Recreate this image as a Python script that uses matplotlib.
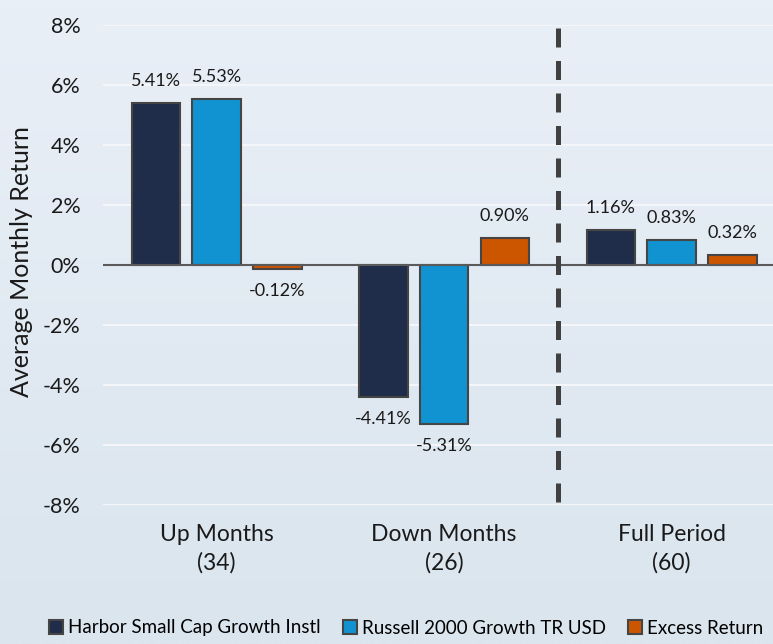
import numpy as np
import matplotlib
matplotlib.use('Agg')
import matplotlib.pyplot as plt
from matplotlib.colors import LinearSegmentedColormap

plt.rcParams['font.family'] = ['Lato', 'DejaVu Sans']

categories = ['Up Months\n(34)', 'Down Months\n(26)', 'Full Period\n(60)']
series_names = ['Harbor Small Cap Growth Instl', 'Russell 2000 Growth TR USD', 'Excess Return']
fund = [5.41, -4.41, 1.16]
bench = [5.53, -5.31, 0.83]
excess = [-0.12, 0.90, 0.32]
yticks = [-8, -6, -4, -2, 0, 2, 4, 6, 8]

colors = ['#1f2d4b', '#1193d2', '#cc5500']
edge = '#454545'

fig = plt.figure(figsize=(7.73, 6.44), dpi=100)

# soft gradient background
bg = fig.add_axes([0, 0, 1, 1], zorder=-10)
grad = np.linspace(0, 1, 256).reshape(-1, 1)
cmap = LinearSegmentedColormap.from_list('bg', ['#e9eff7', '#dae5ee'])
bg.imshow(grad, aspect='auto', cmap=cmap, extent=[0, 1, 0, 1], origin='upper')
bg.axis('off')

ax = fig.add_axes([0.133, 0.216, 0.883, 0.745])
ax.set_facecolor('none')

x = np.arange(len(categories))
pitch, width = 0.267, 0.213
for i, (vals, name, c) in enumerate(zip([fund, bench, excess], series_names, colors)):
    xs = x + (i - 1) * pitch
    ax.bar(xs, vals, width=width, color=c, edgecolor=edge, linewidth=1.5,
           label=name, zorder=3)
    for xi, v in zip(xs, vals):
        off = 16 if v >= 0 else -16
        ax.annotate(f'{v:.2f}%', (xi, v), xytext=(0, off), textcoords='offset points',
                    ha='center', va='center', fontsize=13, color='#1a1a1a')

ax.set_xlim(-0.5, 2.5)
ax.set_ylim(-8, 8)
ax.set_yticks(yticks)
ax.set_yticklabels([f'{t}%' for t in yticks], fontsize=15.5, color='#1a1a1a')
ax.set_xticks(x)
ax.set_xticklabels(categories, fontsize=16.5, color='#1a1a1a', linespacing=1.4)
ax.tick_params(length=0)
ax.tick_params(axis='y', pad=16)
ax.tick_params(axis='x', pad=14)
for s in ax.spines.values():
    s.set_visible(False)
ax.grid(axis='y', color='#f4f6f9', linewidth=1.5, zorder=0)
ax.axhline(0, color='#5a5a5a', linewidth=1.5, zorder=4)
ax.plot([1.5, 1.5], [7.9, -8], color='#404040', linewidth=3.6,
        linestyle=(0, (3.8, 2.7)), zorder=4)

fig.text(22 / 773, 1 - 262 / 644, 'Average Monthly Return', rotation=90, ha='center',
         va='center', fontsize=18, color='#1a1a1a')

fig.legend(loc='center', bbox_to_anchor=(406 / 773, 1 - 628 / 644), ncol=3,
           frameon=False, fontsize=13.5, handlelength=0.75, handleheight=0.75,
           handletextpad=0.25, columnspacing=1.2)

fig.savefig('out.png', dpi=100)
